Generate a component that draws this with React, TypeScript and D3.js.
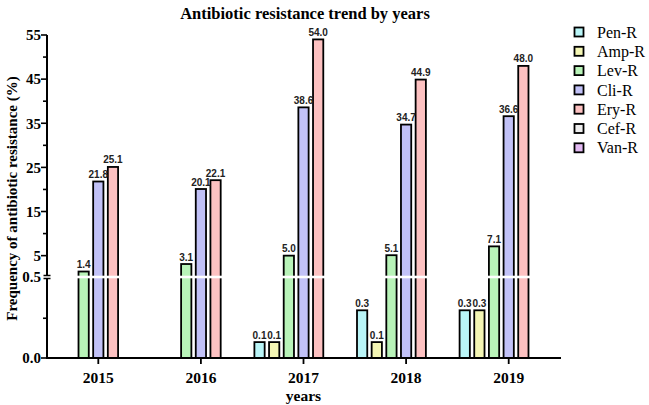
import React from "react";
import * as d3 from "d3";

const years = ["2015", "2016", "2017", "2018", "2019"];
const seriesNames = ["Pen-R", "Amp-R", "Lev-R", "Cli-R", "Ery-R", "Cef-R", "Van-R"];
const seriesColors = ["#b9f5f7", "#f4f6b4", "#b8f3b8", "#c1c1f7", "#fdc1c1", "#eeeeee", "#e2b9f2"];
const penR = [0, 0, 0.1, 0.3, 0.3];
const ampR = [0, 0, 0.1, 0.1, 0.3];
const levR = [1.4, 3.1, 5.0, 5.1, 7.1];
const cliR = [21.8, 20.1, 38.6, 34.7, 36.6];
const eryR = [25.1, 22.1, 54.0, 44.9, 48.0];
const cefR = [0, 0, 0, 0, 0];
const vanR = [0, 0, 0, 0, 0];
const seriesValues = [penR, ampR, levR, cliR, eryR, cefR, vanR];
const upperMajorTicks = [5, 15, 25, 35, 45, 55];
const upperMinorTicks = [10, 20, 30, 40, 50];
const lowerMinorTicks = [0.25];

const W = 649;
const H = 405;
const left = 47;
const right = 560;
const base = 358;
const breakTop = 275.5;
const breakBot = 278.5;

export default function App() {
  const x0 = d3.scaleBand<string>().domain(years).range([left, right]).padding(0);
  const x1 = d3
    .scaleBand<string>()
    .domain(seriesNames)
    .range([0, x0.bandwidth()])
    .paddingInner(0.3)
    .paddingOuter(0.15);
  const yLow = d3.scaleLinear().domain([0, 0.5]).range([base, breakBot]);
  const yHigh = d3.scaleLinear().domain([0.5, 55]).range([breakTop, 35]);
  const y = (v: number) => (v <= 0.5 ? yLow(v) : yHigh(v));

  const serif = "'Liberation Serif', 'Times New Roman', serif";
  const sans = "'Liberation Sans', Arial, sans-serif";

  const bars: React.ReactNode[] = [];
  const labels: React.ReactNode[] = [];
  years.forEach((yr, yi) => {
    seriesNames.forEach((s, si) => {
      const v = seriesValues[si][yi];
      if (!v) return;
      const bx = (x0(yr) as number) + (x1(s) as number);
      const bw = x1.bandwidth();
      const top = y(v);
      bars.push(
        <rect
          key={`b-${yr}-${s}`}
          x={bx}
          y={top}
          width={bw}
          height={base - top}
          fill={seriesColors[si]}
          stroke="#000"
          strokeWidth={1.8}
        />
      );
      labels.push(
        <text
          key={`l-${yr}-${s}`}
          x={bx + bw / 2}
          y={top - 3.5}
          textAnchor="middle"
          fontFamily={sans}
          fontWeight="bold"
          fontSize={10}
          fill="#222"
        >
          {v.toFixed(1)}
        </text>
      );
    });
  });

  return (
    <svg
      width={W}
      height={H}
      style={{ position: "absolute", left: 0, top: 0, display: "block", background: "#fff" }}
    >
      <text
        x={305}
        y={19}
        textAnchor="middle"
        fontFamily={serif}
        fontWeight="bold"
        fontSize={16.5}
      >
        Antibiotic resistance trend by years
      </text>

      {bars}
      {/* axis break white band */}
      <rect x={left + 1} y={breakTop + 0.2} width={right - left} height={breakBot - breakTop - 0.4} fill="#fff" />
      {labels}

      {/* y axis */}
      <line x1={left} x2={left} y1={yHigh(55)} y2={breakTop} stroke="#000" strokeWidth={2} />
      <line x1={left} x2={left} y1={breakBot} y2={base + 1} stroke="#000" strokeWidth={2} />
      <line x1={left - 3.5} x2={left + 3.5} y1={breakTop} y2={breakTop} stroke="#000" strokeWidth={1.5} />
      <line x1={left - 3.5} x2={left + 3.5} y1={breakBot} y2={breakBot} stroke="#000" strokeWidth={1.5} />
      {upperMajorTicks.map((t) => (
        <g key={`ym-${t}`}>
          <line x1={left - 6} x2={left} y1={yHigh(t)} y2={yHigh(t)} stroke="#000" strokeWidth={1.6} />
          <text
            x={left - 6}
            y={yHigh(t)}
            dy="0.35em"
            textAnchor="end"
            fontFamily={serif}
            fontWeight="bold"
            fontSize={15}
          >
            {t}
          </text>
        </g>
      ))}
      {upperMinorTicks.map((t) => (
        <line key={`yn-${t}`} x1={left - 4} x2={left} y1={yHigh(t)} y2={yHigh(t)} stroke="#000" strokeWidth={1.6} />
      ))}
      {lowerMinorTicks.map((t) => (
        <line key={`yl-${t}`} x1={left - 4} x2={left} y1={yLow(t)} y2={yLow(t)} stroke="#000" strokeWidth={1.6} />
      ))}
      <text
        x={left - 6}
        y={(breakTop + breakBot) / 2}
        dy="0.35em"
        textAnchor="end"
        fontFamily={serif}
        fontWeight="bold"
        fontSize={15}
      >
        0.5
      </text>
      <line x1={left - 6} x2={left} y1={base} y2={base} stroke="#000" strokeWidth={1.6} />
      <text
        x={left - 6}
        y={base}
        dy="0.35em"
        textAnchor="end"
        fontFamily={serif}
        fontWeight="bold"
        fontSize={15}
      >
        0.0
      </text>

      {/* x axis */}
      <line x1={left - 1} x2={right + 1} y1={base} y2={base} stroke="#000" strokeWidth={2} />
      {years.map((yr) => {
        const cx = (x0(yr) as number) + x0.bandwidth() / 2;
        return (
          <g key={`x-${yr}`}>
            <line x1={cx} x2={cx} y1={base} y2={base + 6} stroke="#000" strokeWidth={1.8} />
            <text x={cx} y={383} textAnchor="middle" fontFamily={serif} fontWeight="bold" fontSize={15.5}>
              {yr}
            </text>
          </g>
        );
      })}
      <text x={(left + right) / 2} y={401} textAnchor="middle" fontFamily={serif} fontWeight="bold" fontSize={15.5}>
        years
      </text>
      <text
        transform={`translate(17, ${(yHigh(55) + base) / 2 + 2}) rotate(-90)`}
        textAnchor="middle"
        fontFamily={serif}
        fontWeight="bold"
        fontSize={15}
      >
        Frequency of antibiotic resistance (%)
      </text>

      {/* legend */}
      {seriesNames.map((s, i) => {
        const cy = 32 + i * 19.3;
        return (
          <g key={`lg-${s}`}>
            <rect x={574.5} y={cy - 4.5} width={9} height={9} fill={seriesColors[i]} stroke="#000" strokeWidth={1.8} />
            <text x={597} y={cy} dy="0.35em" fontFamily={serif} fontSize={16}>
              {s}
            </text>
          </g>
        );
      })}
    </svg>
  );
}
